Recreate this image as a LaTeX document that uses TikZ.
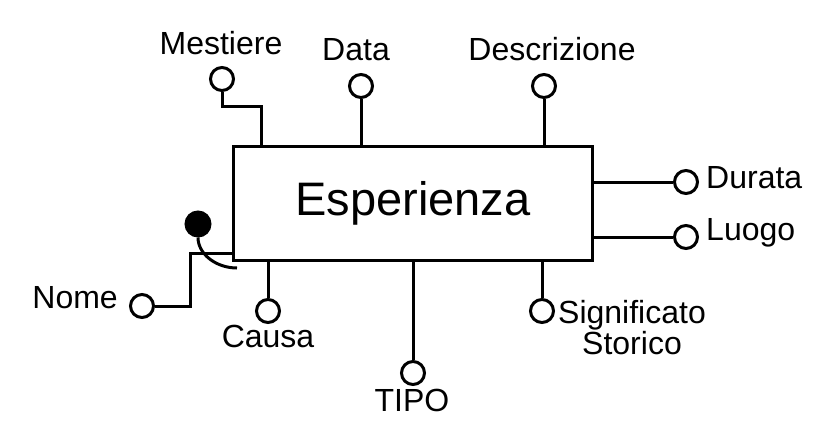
\documentclass[tikz,border=0pt]{standalone}
\usepackage{fontspec}
\setmainfont{Liberation Sans}
\begin{document}
\begin{tikzpicture}[x=1pt,y=-1pt,
  conn/.style={line width=3pt},
  attr/.style={circle,draw,line width=3pt,fill=white,minimum size=23pt,inner sep=0pt},
  keyattr/.style={circle,draw,line width=3pt,fill=black,minimum size=24pt,inner sep=0pt},
  entity/.style={draw,line width=3pt,minimum width=359pt,minimum height=114pt,inner sep=0pt,outer sep=0pt,font=\fontsize{47}{51}\selectfont},
  lbl/.style={inner sep=0pt,font=\fontsize{32}{36}\selectfont}]
\useasboundingbox (0,0) rectangle (840,436);
% entity
\node[entity] (box) at (413,203) {Esperienza};
% attribute circles
\node[attr] (mest) at (222,79) {};
\node[attr] (data) at (361,86) {};
\node[attr] (desc) at (544,86) {};
\node[attr] (dur) at (686,182) {};
\node[attr] (luo) at (686,237) {};
\node[attr] (sig) at (542,311) {};
\node[attr] (cau) at (268,311) {};
\node[attr] (tipo) at (413,373) {};
\node[attr] (nome) at (142,306) {};
\node[keyattr] (key) at (198,224) {};
% helper coordinates
\coordinate (mk) at (261,106);
\coordinate (nk) at (190,253);
\coordinate (kend) at (237,268);
% connectors
\draw[conn] (mest.south) |- (mk) -- (mk |- box.north);
\draw[conn] (data.south) -- (data.south |- box.north);
\draw[conn] (desc.south) -- (desc.south |- box.north);
\draw[conn] (dur.west -| box.east) -- (dur.west);
\draw[conn] (luo.west -| box.east) -- (luo.west);
\draw[conn] (sig.north |- box.south) -- (sig.north);
\draw[conn] (cau.north |- box.south) -- (cau.north);
\draw[conn] (tipo.north |- box.south) -- (tipo.north);
\draw[conn] (nome.east) -| (nk) -- (nk -| box.west);
\draw[conn] (key.south) .. controls (198,254) and (216,268) .. (kend);
% labels
\node[lbl,anchor=base] (lmest) at (221,55) {Mestiere};
\node[lbl,anchor=base] (ldata) at (356,60) {Data};
\node[lbl,anchor=base] (ldesc) at (552,60) {Descrizione};
\node[lbl,anchor=base west] (ldur) at (706,188) {Durata};
\node[lbl,anchor=base west] (lluo) at (706,240) {Luogo};
\node[inner sep=0pt,align=center,anchor=north,font=\fontsize{32}{25}\selectfont] (lsig) at (632,300) {Significato\\Storico};
\node[lbl,anchor=base] (lcau) at (268,347) {Causa};
\node[lbl,anchor=base] (ltipo) at (412,411) {TIPO};
\node[lbl,anchor=base east] (lnome) at (118,308) {Nome};
\end{tikzpicture}
\end{document}
